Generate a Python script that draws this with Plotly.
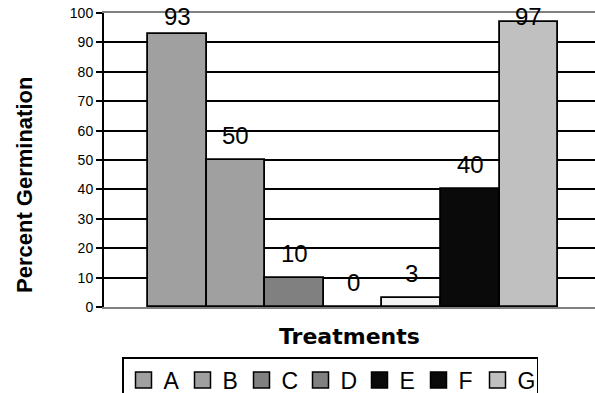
import plotly.graph_objects as go

# Germination results per treatment
treatments = ["A", "B", "C", "D", "E", "F", "G"]
germination = [93, 50, 10, 0, 3, 40, 97]

# fills used for the bars and for the legend keys
bar_colors = ["#a0a0a0", "#a0a0a0", "#808080", "#808080", "#f4f4f4", "#0a0a0a", "#c0c0c0"]
key_colors = ["#a0a0a0", "#a0a0a0", "#808080", "#808080", "#0a0a0a", "#0a0a0a", "#c0c0c0"]

y_ticks = list(range(0, 101, 10))

W, H = 595, 393
M_L, M_R, M_T, M_B = 104, 0, 13, 86
plot_w = W - M_L - M_R
plot_h = H - M_T - M_B
px_per_unit = plot_h / 100.0

fig = go.Figure()

fig.add_trace(go.Bar(
    x=treatments,
    y=germination,
    marker=dict(color=bar_colors, line=dict(color="black", width=1.8)),
    showlegend=False,
    hoverinfo="skip",
))

# legend keys: one square per treatment
for name, col in zip(treatments, key_colors):
    fig.add_trace(go.Scatter(
        x=[None], y=[None], mode="markers", name=name,
        marker=dict(symbol="square", size=16, color=col,
                    line=dict(color="black", width=1.5)),
        hoverinfo="skip",
    ))

# value labels above the bars, kept below the top of the chart
annotations = []
for name, v in zip(treatments, germination):
    room = (100 - v) * px_per_unit
    shift = min(9, room - 19)
    annotations.append(dict(
        x=name, y=v, xref="x", yref="y", text=str(v), showarrow=False,
        yanchor="bottom", yshift=shift,
        font=dict(family="Liberation Sans, Arial", size=24, color="black"),
    ))

annotations.append(dict(
    x=0.5, y=(H - M_B - 336) / plot_h, xref="paper", yref="paper",
    text="<b>Treatments</b>",
    showarrow=False, xanchor="center", yanchor="middle",
    font=dict(family="DejaVu Sans", size=22, color="black"),
))
annotations.append(dict(
    x=(24 - M_L) / plot_w, y=(H - M_B - 185) / plot_h,
    xref="paper", yref="paper", text="<b>Percent Germination</b>",
    showarrow=False, textangle=-90, xanchor="center", yanchor="middle",
    font=dict(family="Liberation Sans, Arial", size=22, color="black"),
))

fig.update_layout(
    width=W, height=H,
    margin=dict(l=M_L, r=M_R, t=M_T, b=M_B, pad=0, autoexpand=False),
    paper_bgcolor="white", plot_bgcolor="white",
    bargap=0,
    font=dict(family="Liberation Sans, Arial", color="black"),
    annotations=annotations,
    legend=dict(
        orientation="h", x=(122 - M_L) / plot_w, xanchor="left",
        y=(H - M_B - 357) / plot_h, yanchor="top",
        bordercolor="black", borderwidth=1.5, bgcolor="white",
        font=dict(family="Liberation Sans, Arial", size=23, color="black"),
        itemwidth=30, entrywidth=14, traceorder="normal",
    ),
    xaxis=dict(
        type="category", categoryorder="array", categoryarray=treatments,
        range=[-1.25, 7.13], showticklabels=False, ticks="",
        showgrid=False, zeroline=False,
        showline=True, linecolor="#808080", linewidth=2, mirror=True,
    ),
    yaxis=dict(
        range=[0, 100], tickvals=y_ticks, ticks="outside", ticklen=6,
        tickwidth=2, tickcolor="black",
        showgrid=True, gridcolor="black", gridwidth=2, zeroline=False,
        showline=True, linecolor="black", linewidth=2,
        tickfont=dict(family="Liberation Sans, Arial", size=14, color="black"),
    ),
)

fig.write_html("out.html")
